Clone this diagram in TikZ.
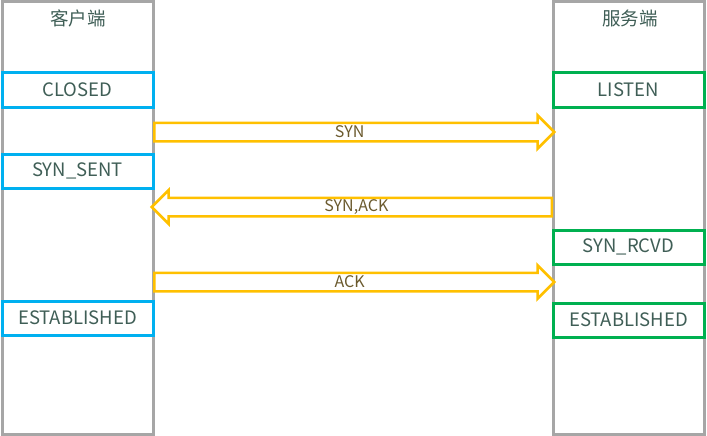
\documentclass[tikz,border=0pt]{standalone}
\usepackage{fontspec}
\setmainfont{Noto Sans CJK SC}
\usepackage{xcolor}
\usetikzlibrary{shapes.arrows}

\definecolor{lanegray}{HTML}{A6A6A6}
\definecolor{clientblue}{HTML}{00B0F0}
\definecolor{servergreen}{HTML}{00B050}
\definecolor{msgyellow}{HTML}{FFC000}
\definecolor{labeltext}{HTML}{3F5E56}
\definecolor{msgtext}{HTML}{6B5A2E}

\begin{document}
\begin{tikzpicture}[
		x=1pt, y=-1pt,
		lane/.style={draw=lanegray, line width=3pt, minimum width=151pt, minimum height=432pt, inner sep=0pt},
		title/.style={text=labeltext, font=\fontsize{18.5}{22}\selectfont},
		state/.style={line width=3pt, fill=white, minimum width=151pt, minimum height=34pt, inner sep=0pt,
			text=labeltext, font=\fontsize{18.5}{22}\selectfont},
		clientstate/.style={state, draw=clientblue},
		serverstate/.style={state, draw=servergreen},
		msg/.style={single arrow, draw=msgyellow, line width=2.5pt, fill=white, minimum height=400pt,
			minimum width=31pt, single arrow head extend=7.5pt, inner sep=8pt, anchor=tail},
		msg label/.style={text=msgtext, font=\fontsize{16}{19}\selectfont, inner sep=0pt}
		]
	
	\useasboundingbox (0, 0) rectangle (707, 436);
	
	% Lanes
	\node[lane] (client) at (77.5, 218) {};
	\node[lane] (server) at (628.5, 218) {};
	\node[title] (clienttitle) at (78, 18) {客户端};
	\node[title] (servertitle) at (630, 18) {服务端};
	
	% Client states
	\foreach \name/\y/\label in {closed/90/CLOSED, synsent/171/SYN\_SENT, clientest/318/ESTABLISHED}{
		\node[clientstate] (\name) at (77.5, \y) {\label};
	}
	
	% Server states
	\foreach \name/\y/\label in {listen/90/LISTEN, synrcvd/247/SYN\_RCVD, serverest/320/ESTABLISHED}{
		\node[serverstate] (\name) at (628.5, \y) {\label};
	}
	
	% Messages
	\node[msg] (syn) at (153, 132) {};
	\node[msg, shape border rotate=180] (synack) at (553, 207) {};
	\node[msg] (ack) at (153, 282) {};
	
	\node[msg label] (synlabel) at (syn.center) {SYN};
	\node[msg label] (synacklabel) at (synack.center) {SYN,ACK};
	\node[msg label] (acklabel) at (ack.center) {ACK};
	
\end{tikzpicture}
\end{document}
